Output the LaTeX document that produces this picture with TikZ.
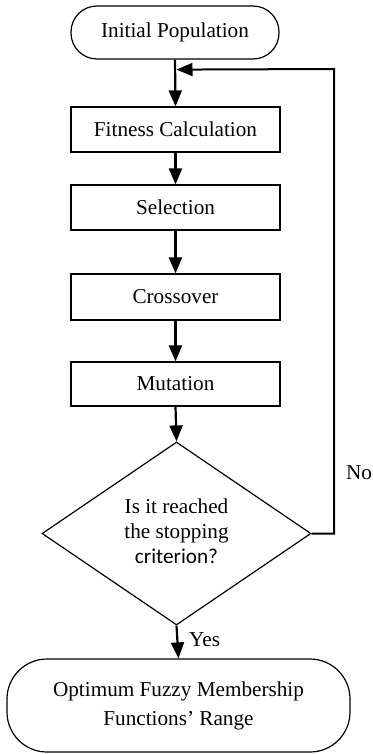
\documentclass[tikz,border=0pt]{standalone}
\usepackage{fontspec}
\setmainfont{Liberation Serif}
\newfontfamily\calib{Carlito}
\usetikzlibrary{shapes.geometric,arrows.meta,calc}
\begin{document}
\begin{tikzpicture}[x=1pt,y=-1pt,
  every node/.style={font=\fontsize{21.2}{25}\selectfont},
  term/.style={draw,line width=1.2pt,rectangle,inner sep=0pt,align=center},
  procbox/.style={draw,line width=1.2pt,rectangle,minimum width=209pt,inner sep=0pt,align=center},
  decis/.style={draw,line width=1.2pt,diamond,shape aspect=1.47,inner sep=0pt,minimum width=269pt,minimum height=183pt,align=center},
  arr/.style={line width=2.2pt,-{Triangle[length=16pt,width=13pt]}},
  lbl/.style={inner sep=0pt}]
\useasboundingbox (0,0) rectangle (372,754);
\node[term,rounded corners=26pt,minimum width=208pt,minimum height=53pt] (init) at (175,32.5) {Initial Population};
\node[procbox,minimum height=45pt] (fit) at (175.5,129.5) {Fitness Calculation};
\node[procbox,minimum height=45pt] (sel) at (175.5,207.5) {Selection};
\node[procbox,minimum height=46pt] (cro) at (175.5,297) {Crossover};
\node[procbox,minimum height=44pt] (mut) at (175.5,384) {Mutation};
\node[decis] (dec) at (176.5,533.5) {};
\node[lbl,align=center,font=\fontsize{21.2}{25}\selectfont] (dectext) at (176.5,531) {Is it reached\\the stopping\\{\calib criterion?}};
\node[term,rounded corners=40pt,minimum width=343pt,minimum height=93pt,font=\fontsize{21.2}{29}\selectfont] (final) at (178.5,705.5) {Optimum Fuzzy Membership\\Functions’ Range};
\coordinate (join) at ($(init.south)+(1.5,10)$);
\coordinate (fbcorner) at (334,69);
\draw[arr] (init.south) -- (fit.north);
\draw[arr] (fit.south) -- (sel.north);
\draw[arr] (sel.south) -- (cro.north);
\draw[arr] (cro.south) -- (mut.north);
\draw[arr] (mut.south) -- (dec.north);
\draw[arr] (dec.south) -- (final.north);
\draw[arr,line width=2pt] (dec.east) -| (fbcorner) -- (join);
\node[lbl,anchor=west] (yes) at (189,640) {Yes};
\node[lbl] (no) at (359,473) {No};
\end{tikzpicture}
\end{document}
